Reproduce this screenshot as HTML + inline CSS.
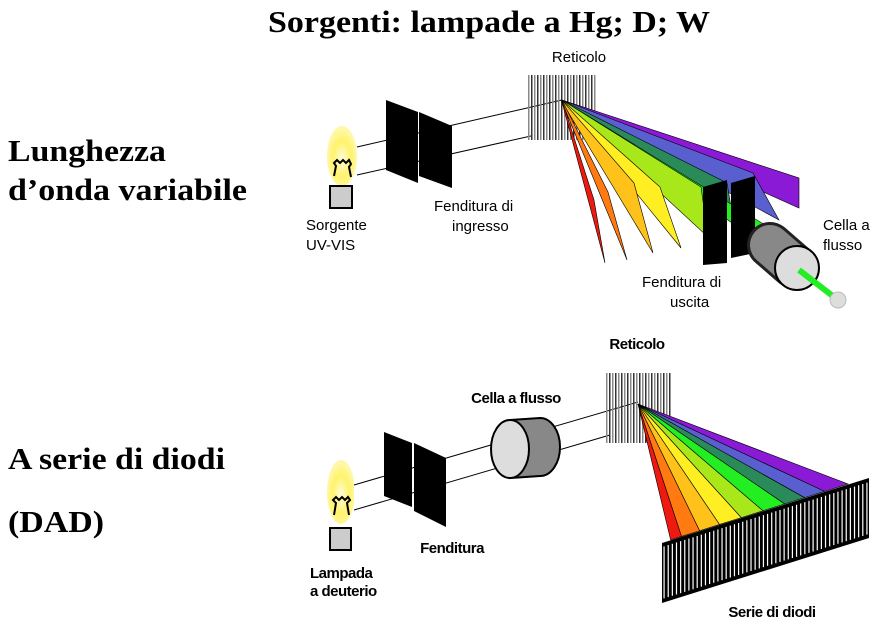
<!DOCTYPE html>
<html><head><meta charset="utf-8"><style>
html,body{margin:0;padding:0;background:#fff;width:880px;height:624px;overflow:hidden}
svg{display:block}
.t{font-family:"Liberation Serif",serif;font-weight:bold;font-size:31px;fill:#000}
.c{font-family:"Liberation Sans",sans-serif;font-size:15px;fill:#000}
.b{font-family:"Liberation Sans",sans-serif;font-size:15px;font-weight:bold;fill:#000;letter-spacing:-0.5px}
</style></head><body>
<svg id="s" width="880" height="624" viewBox="0 0 880 624" xmlns="http://www.w3.org/2000/svg">
<defs>
<radialGradient id="glow" cx="50%" cy="55%" r="50%"><stop offset="0" stop-color="#fffbe0"/><stop offset="0.6" stop-color="#fff36a"/><stop offset="1" stop-color="#fff8a8"/></radialGradient>
</defs>
<text class="t" x="268" y="32" textLength="442" lengthAdjust="spacingAndGlyphs">Sorgenti: lampade a Hg; D; W</text>
<text class="t" x="8" y="161" textLength="158" lengthAdjust="spacingAndGlyphs">Lunghezza</text>
<text class="t" x="8" y="200" textLength="239" lengthAdjust="spacingAndGlyphs">d’onda variabile</text>
<text class="t" x="8" y="469" textLength="217" lengthAdjust="spacingAndGlyphs">A serie di diodi</text>
<text class="t" x="8" y="532" textLength="96" lengthAdjust="spacingAndGlyphs">(DAD)</text>

<g>
<ellipse cx="342" cy="156" rx="15" ry="30" fill="url(#glow)"/>
<path d="M334 176 l2 -10 l-2 -3 l3 -3 l3 3 l3 -3 l3 3 l3 -3 l2 4 l-2 3 l2 10" fill="none" stroke="#000" stroke-width="2"/>
<rect x="330" y="186" width="22" height="22" fill="#ccc" stroke="#000" stroke-width="2"/>
<polygon points="357,147 562,100 562,128 357,175" fill="#fff"/>
<line x1="357" y1="147" x2="562" y2="100" stroke="#000"/>
<line x1="357" y1="175" x2="531" y2="136" stroke="#000"/>
<polygon points="386,100 418,112 418,183 386,170" fill="#000"/>
<polygon points="419,112 452,126 452,188 419,176" fill="#000"/>
<g id="grat1"></g>
<g id="fan1"></g>
<polygon points="703,187 727,180 727,263 703,265" fill="#000"/>
<polygon points="731,183 755,176 755,253 731,258" fill="#000"/>
<line x1="770" y1="245" x2="793" y2="265" stroke="#222" stroke-width="46" stroke-linecap="round"/>
<line x1="770" y1="245" x2="793" y2="265" stroke="#888" stroke-width="40" stroke-linecap="round"/>
<circle cx="797" cy="268" r="22" fill="#ddd" stroke="#000" stroke-width="2"/>
<line x1="799" y1="270" x2="834" y2="297" stroke="#2e2" stroke-width="6"/>
<circle cx="838" cy="300" r="8" fill="#ddd" stroke="#bbb"/>
<text class="c" x="579" y="62" text-anchor="middle">Reticolo</text>
<text class="c" x="306" y="230">Sorgente</text>
<text class="c" x="306" y="250">UV-VIS</text>
<text class="c" x="434" y="211">Fenditura di</text>
<text class="c" x="452" y="231">ingresso</text>
<text class="c" x="642" y="287">Fenditura di</text>
<text class="c" x="670" y="307">uscita</text>
<text class="c" x="823" y="230">Cella a</text>
<text class="c" x="823" y="250">flusso</text>
</g>

<g>
<ellipse cx="341" cy="492" rx="14" ry="32" fill="url(#glow)"/>
<path d="M334 515 l2 -12 l-3 -3 l3 -3 l3 3 l3 -3 l3 3 l3 -3 l2 3 l-3 3 l2 12" fill="none" stroke="#000" stroke-width="2"/>
<rect x="330" y="528" width="21" height="22" fill="#ccc" stroke="#000" stroke-width="2"/>
<polygon points="354,485 638,402 638,425 354,510" fill="#fff"/>
<line x1="354" y1="485" x2="638" y2="402" stroke="#000"/>
<line x1="354" y1="510" x2="610" y2="435" stroke="#000"/>
<polygon points="384,432 412,443 412,507 384,496" fill="#000"/>
<polygon points="414,443 446,458 446,527 414,511" fill="#000"/>
<path d="M510 420 L540 418 A20 29 0 0 1 540 476 L510 478 Z" fill="#888" stroke="#000" stroke-width="2"/>
<ellipse cx="510" cy="449" rx="19" ry="29" fill="#ddd" stroke="#000" stroke-width="2"/>
<g id="grat2"></g>
<g id="fan2"></g>
<polygon points="662,543 869,478 869,538 662,603" fill="#000"/>
<g id="diodes"></g>
<text class="b" x="637" y="349" text-anchor="middle">Reticolo</text>
<text class="b" x="516" y="403" text-anchor="middle">Cella a flusso</text>
<text class="b" x="452" y="553" text-anchor="middle">Fenditura</text>
<text class="b" x="310" y="578">Lampada</text>
<text class="b" x="310" y="596">a deuterio</text>
<text class="b" x="772" y="617" text-anchor="middle">Serie di diodi</text>
</g>
</svg>
<script>
const bandNames=['purple','blue','teal','green','yellowgreen','lightyellow','yellow','orange','red'];
const bandColors=['#8a1ad6','#5a5fd0','#2a8a5a','#22ee22','#a8e81a','#ffee22','#ffc21a','#ff7a10','#ee1a10'];
// top fan: far edge top point (x1,y1) and bottom point (x2,y2)
const topX1=[799,753,727,770,701,660,634,608,594];
const topY1=[178,173,183,228,187,187,183,192,200];
const topX2=[799,779,731,770,708,681,653,627,605];
const topY2=[208,220,207,250,237,248,253,260,263];
const botStart=[1.0,0.87,0.76,0.65,0.53,0.41,0.29,0.18,0.08];
const botEnd=[0.87,0.76,0.65,0.53,0.41,0.29,0.18,0.08,0.02];
const NS='http://www.w3.org/2000/svg';
function grating(id,x,y,w,h){
  const g=document.getElementById(id);
  for(let i=0;i<w;i+=3){
    const r=document.createElementNS(NS,'rect');
    r.setAttribute('x',x+i);r.setAttribute('y',y);r.setAttribute('width',1.5);r.setAttribute('height',h);
    r.setAttribute('fill',i%6?'#333':'#888');
    
    
    g.appendChild(r);
  }
}
grating('grat1',528,75,68,65);
grating('grat2',606,373,64,70);
const f1=document.getElementById('fan1');
const ax=562,ay=100;
bandNames.forEach((n,i)=>{
  const p=document.createElementNS(NS,'polygon');
  p.setAttribute('points',`${ax},${ay} ${topX1[i]},${topY1[i]} ${topX2[i]},${topY2[i]} ${ax},${ay+2}`);
  p.setAttribute('fill',bandColors[i]);p.setAttribute('stroke','#000');p.setAttribute('stroke-width','0.6');
  
  
  f1.appendChild(p);
});
const f2=document.getElementById('fan2');
const bx=638,by=404,L={x:667,y:541},R={x:848,y:484};
function pt(t){return [L.x+(R.x-L.x)*t,L.y+(R.y-L.y)*t];}
bandNames.forEach((n,i)=>{
  const a=pt(botStart[i]),b=pt(botEnd[i]);
  const p=document.createElementNS(NS,'polygon');
  p.setAttribute('points',`${bx},${by} ${a[0]},${a[1]} ${b[0]},${b[1]}`);
  p.setAttribute('fill',bandColors[i]);p.setAttribute('stroke','#000');p.setAttribute('stroke-width','0.6');
  
  
  f2.appendChild(p);
});
const d=document.getElementById('diodes');
for(let k=0;k<50;k++){
  const t=(k+0.5)/50,x=662+207*t,y1=543-65*t+4,y2=603-65*t-4;
  const l=document.createElementNS(NS,'line');
  l.setAttribute('x1',x);l.setAttribute('x2',x);l.setAttribute('y1',y1);l.setAttribute('y2',y2);
  l.setAttribute('stroke','#fff');l.setAttribute('stroke-width','1.2');
  
  
  d.appendChild(l);
}
</script>
</body></html>
